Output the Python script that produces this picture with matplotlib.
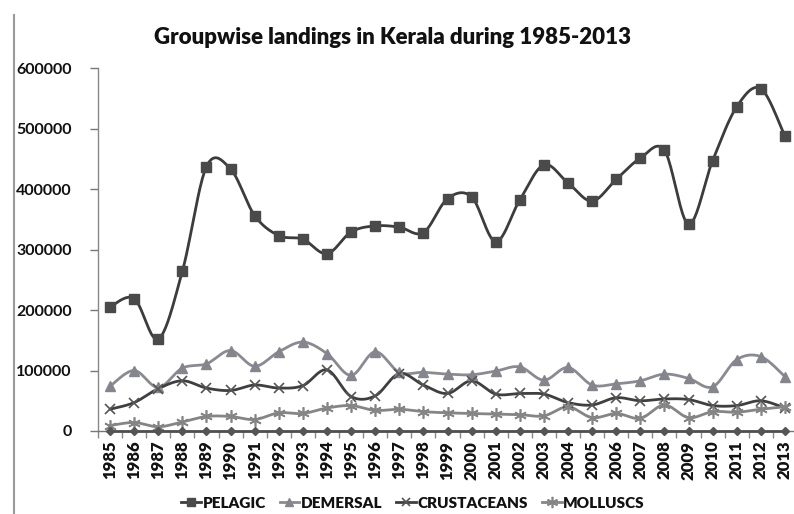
import numpy as np
import matplotlib
matplotlib.use("Agg")
import matplotlib.pyplot as plt
from matplotlib.lines import Line2D

plt.rcParams['font.family'] = ['Lato', 'DejaVu Sans']

years = [str(y) for y in range(1985, 2014)]

pelagic = [205000, 219000, 152000, 264000, 437000, 433000, 356000, 323000, 317000,
           293000, 329000, 339000, 337000, 328000, 384000, 387000, 313000, 382000,
           440000, 410000, 380000, 416000, 451000, 464000, 342000, 447000, 536000,
           566000, 487000]
demersal = [74000, 100000, 72000, 104000, 111000, 133000, 107000, 131000, 147000,
            128000, 92000, 131000, 97000, 97000, 94000, 93000, 99000, 106000,
            84000, 105000, 76000, 78000, 83000, 94000, 87000, 73000, 118000,
            123000, 90000]
crustaceans = [36000, 47000, 70000, 83000, 71000, 67000, 76000, 71000, 75000,
               101000, 57000, 58000, 95000, 76000, 62000, 83000, 61000, 62000,
               61000, 47000, 43000, 55000, 50000, 53000, 52000, 42000, 42000,
               50000, 38000]
molluscs = [9000, 14000, 7000, 15000, 24000, 24000, 19000, 30000, 29000,
            38000, 42000, 34000, 36000, 32000, 30000, 29000, 28000, 27000,
            25000, 40000, 22000, 29000, 21000, 43000, 22000, 32000, 31000,
            36000, 40000]
others = [0] * len(years)

yticks = [0, 100000, 200000, 300000, 400000, 500000, 600000]


def smooth(xs, ys, n=24):
    """Bezier smoothing through every point (Catmull-Rom style control points)."""
    xs = np.asarray(xs, float)
    ys = np.asarray(ys, float)
    pts = np.column_stack([xs, ys])
    m = len(pts)
    out = [pts[0]]
    t = np.linspace(0, 1, n)[1:, None]
    for i in range(m - 1):
        p0 = pts[i]
        p3 = pts[i + 1]
        pm = pts[i - 1] if i > 0 else pts[i]
        pp = pts[i + 2] if i + 2 < m else pts[i + 1]
        c1 = p0 + (p3 - pm) / 6.0
        c2 = p3 - (pp - p0) / 6.0
        seg = ((1 - t) ** 3) * p0 + 3 * ((1 - t) ** 2) * t * c1 + 3 * (1 - t) * t ** 2 * c2 + t ** 3 * p3
        out.extend(seg)
    out = np.array(out)
    return out[:, 0], out[:, 1]


fig = plt.figure(figsize=(7.94, 5.14), dpi=100)
ax = fig.add_axes([98 / 794, 1 - 431 / 514, 699 / 794, 363 / 514])

x = np.arange(len(years))

series = [
    ("PELAGIC", pelagic, "#3c3c3c", "#4a4a4a", "s", 6.5, 1.0),
    ("DEMERSAL", demersal, "#8a8a92", "#85858d", "^", 7, 1.0),
    ("CRUSTACEANS", crustaceans, "#3f3f3f", "#555555", "x", 7, 1.2),
    ("MOLLUSCS", molluscs, "#858585", "#858585", (6, 2, 0), 9, 1.2),
]

handles = []
for name, vals, lc, mc, mk, ms, mew in series:
    sx, sy = smooth(x, vals)
    ax.plot(sx, sy, color=lc, lw=2.0, zorder=3, solid_capstyle='round')
    ax.plot(x, vals, linestyle='none', marker=mk, markersize=ms, color=mc,
            markeredgecolor=mc, markeredgewidth=mew, zorder=4)
    handles.append(Line2D([0], [0], color=lc, lw=2.0, marker=mk, markersize=ms * 0.9,
                          markerfacecolor=mc, markeredgecolor=mc, markeredgewidth=mew))

ax.plot(x, others, color="#4f4f4f", lw=2.0, marker="D", markersize=4.5,
        markerfacecolor="#555555", markeredgecolor="#555555", zorder=5, clip_on=False)

ax.set_xlim(-0.5, len(years) - 0.5)
ax.set_ylim(0, 600000)
ax.set_yticks(yticks)
ax.set_yticklabels([str(v) for v in yticks], fontsize=11.5, fontweight='bold', color="#111111")
ax.set_xticks(x)
ax.set_xticklabels(years, rotation=90, fontsize=12, fontweight='heavy', color="#111111")
ax.tick_params(axis='x', length=0, pad=7)
ax.tick_params(axis='y', length=6, width=1, color="#777777", pad=13, direction='out')
ax.set_xticks(np.arange(-0.5, len(years), 1), minor=True)
ax.tick_params(axis='x', which='minor', length=5, width=1, color="#888888", direction='out')

for s in ("top", "right"):
    ax.spines[s].set_visible(False)
ax.spines["left"].set_color("#888888")
ax.spines["left"].set_linewidth(1.0)
ax.spines["bottom"].set_color("#777777")
ax.spines["bottom"].set_linewidth(1.0)

fig.text(392 / 794, 1 - 38 / 514, "Groupwise landings in Kerala during 1985-2013",
         ha='center', va='center', fontsize=16, fontweight='heavy', color="#111111")

fig.legend(handles, [s[0] for s in series], loc='center', ncol=4,
           bbox_to_anchor=(413 / 794, 1 - 503 / 514), frameon=False,
           prop={'weight': 'heavy', 'size': 11}, handlelength=1.3, handletextpad=0.1,
           columnspacing=0.9, labelcolor="#111111")

# page edge on the left
fig.add_artist(Line2D([14 / 794, 14 / 794], [0, 1 - 15 / 514], color="#9a9a9a", lw=1.5))

fig.savefig("out.png", dpi=100)
